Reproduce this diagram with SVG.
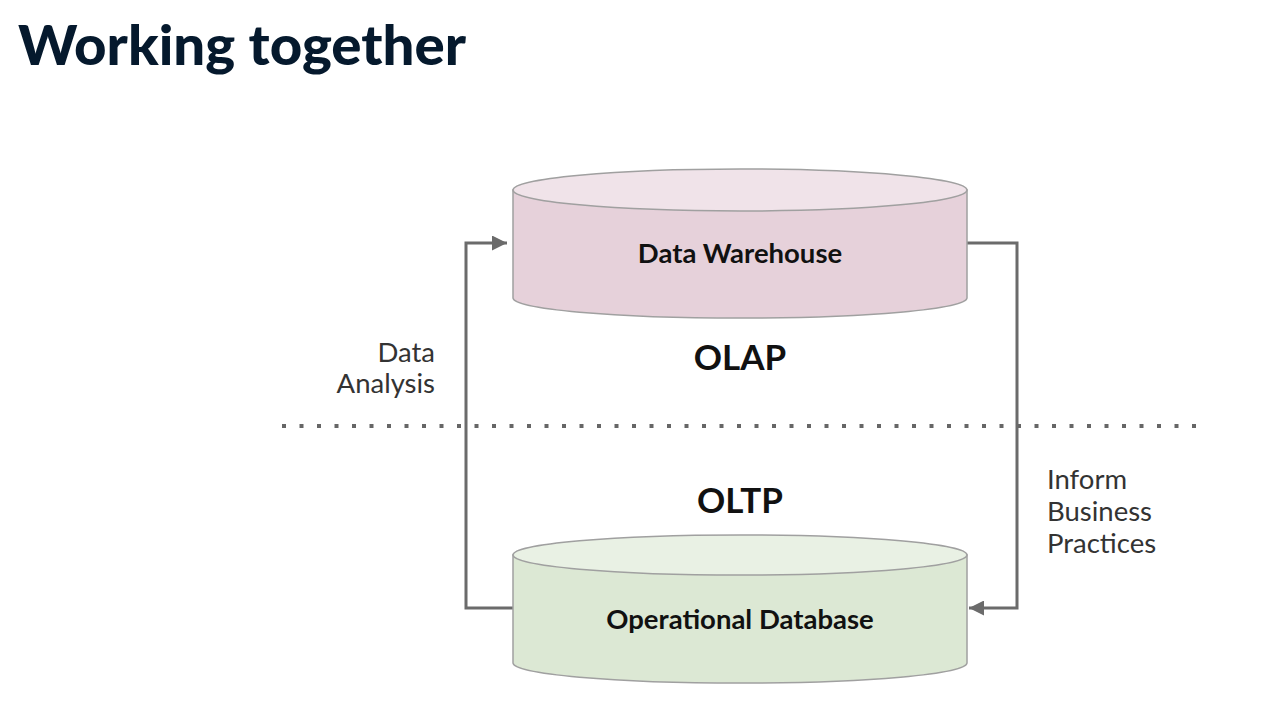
<svg xmlns="http://www.w3.org/2000/svg" width="1280" height="724" viewBox="0 0 1280 724">
<defs>
<style>
.lbl{font-family:Lato,"Liberation Sans",sans-serif;font-size:27.5px;fill:#333}
.node{font-family:Lato,"Liberation Sans",sans-serif;font-size:27.5px;font-weight:bold;fill:#111}
.big{font-family:Lato,"Liberation Sans",sans-serif;font-size:35px;font-weight:bold;fill:#111}
.conn{fill:none;stroke:#6b6b6b;stroke-width:3}
.cyl{stroke:#a0a0a0;stroke-width:1.5}
</style>
<marker id="ah" viewBox="0 0 10 10" refX="10" refY="5" markerWidth="6" markerHeight="5" markerUnits="strokeWidth" orient="auto">
<path d="M0,0 L10,5 L0,10 Z" fill="#6b6b6b"/>
</marker>
</defs>
<rect width="1280" height="724" fill="#fff"/>
<text x="18" y="65" font-family="Lato,'Liberation Sans',sans-serif" font-size="56" font-weight="900" fill="#05192d" textLength="448" lengthAdjust="spacingAndGlyphs">Working together</text>

<line x1="282" y1="426" x2="1196" y2="426" stroke="#666" stroke-width="4" stroke-dasharray="4 13.5"/>

<g id="connectors">
<path class="conn" d="M513,608 H466 V243 H507" marker-end="url(#ah)"/>
<path class="conn" d="M967,243 H1017 V608 H969" marker-end="url(#ah)"/>
</g>

<g id="data-warehouse">
<path class="cyl" d="M513,190 V298 A227,20 0 0 0 967,298 V190 Z" fill="#e6d1da"/>
<ellipse class="cyl" cx="740" cy="190" rx="227" ry="21" fill="#f0e3e9"/>
<text class="node" x="740" y="263" text-anchor="middle">Data Warehouse</text>
</g>

<g id="operational-database">
<path class="cyl" d="M513,555 V663 A227,20 0 0 0 967,663 V555 Z" fill="#dce8d4"/>
<ellipse class="cyl" cx="740" cy="555" rx="227" ry="20" fill="#e9f1e4"/>
<text class="node" x="740" y="629" text-anchor="middle">Operational Database</text>
</g>

<g id="labels">
<text class="big" x="740" y="370" text-anchor="middle">OLAP</text>
<text class="big" x="740" y="513" text-anchor="middle">OLTP</text>
<text class="lbl" x="435" y="362" text-anchor="end">Data</text>
<text class="lbl" x="435" y="393" text-anchor="end">Analysis</text>
<text class="lbl" x="1047" y="489">Inform</text>
<text class="lbl" x="1047" y="521">Business</text>
<text class="lbl" x="1047" y="553">Practices</text>
</g>
</svg>
